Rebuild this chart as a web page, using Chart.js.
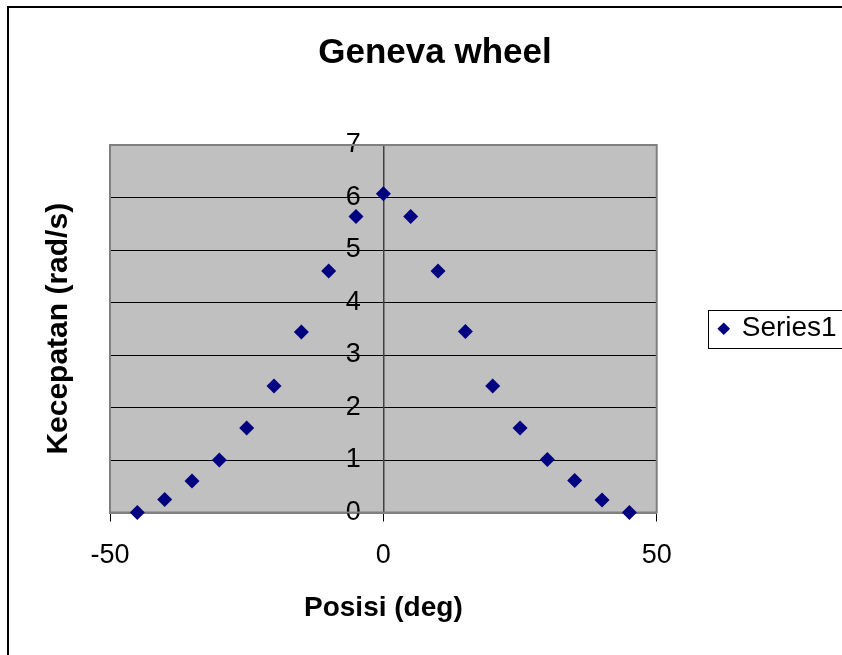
<!DOCTYPE html>
<html>
<head>
<meta charset="utf-8">
<script src="https://cdn.jsdelivr.net/npm/chart.js@4"></script>
<style>
  html, body { margin: 0; padding: 0; overflow: hidden; background: #fff; }
  canvas { display: block; }
</style>
</head>
<body>
<canvas id="genevaChart" width="900" height="655"></canvas>
<script>
// Posisi (deg) vs Kecepatan (rad/s)
const posisi = [-45, -40, -35, -30, -25, -20, -15, -10, -5, 0, 5, 10, 15, 20, 25, 30, 35, 40, 45];
const kecepatan = [0, 0.25, 0.6, 1.0, 1.61, 2.41, 3.44, 4.6, 5.64, 6.07, 5.64, 4.6, 3.45, 2.41, 1.61, 1.01, 0.61, 0.24, 0];
const seriesName = 'Series1';
const xTicks = [-50, 0, 50];
const yTicks = [0, 1, 2, 3, 4, 5, 6, 7];

const fontFamily = '"Liberation Sans", Arial, sans-serif';

// grey plot area + frame, outer chart border, legend box
const excelLook = {
    id: 'excelLook',
    beforeDraw(chart) {
        const c = chart.ctx;
        const a = chart.chartArea;
        c.save();
        c.fillStyle = '#c0c0c0';
        c.fillRect(a.left, a.top, a.right - a.left, a.bottom - a.top);
        c.strokeStyle = '#000';
        c.lineWidth = 2;
        c.beginPath();
        c.moveTo(8, 655);
        c.lineTo(8, 7);
        c.lineTo(900, 7);
        c.stroke();
        c.restore();
    },
    beforeDatasetsDraw(chart) {
        const c = chart.ctx;
        const a = chart.chartArea;
        c.save();
        c.strokeStyle = '#808080';
        c.lineWidth = 2;
        c.strokeRect(a.left, a.top, a.right - a.left, a.bottom - a.top);
        c.restore();
    },
    afterDraw(chart) {
        const box = chart.legend.legendHitBoxes[0];
        if (!box) return;
        const c = chart.ctx;
        const cy = box.top + box.height / 2;
        c.save();
        c.strokeStyle = '#000';
        c.lineWidth = 1;
        c.strokeRect(Math.round(box.left - 12) + 0.5, Math.round(cy - 19) + 0.5, 250, 38);
        c.restore();
    }
};

const ctx = document.getElementById('genevaChart').getContext('2d');
const genevaChart = new Chart(ctx, {
    type: 'scatter',
    data: {
        datasets: [{
            label: seriesName,
            data: posisi.map((x, i) => ({ x: x, y: kecepatan[i] })),
            pointStyle: 'rectRot',
            pointRadius: 7.5,
            pointHoverRadius: 7.5,
            backgroundColor: '#000080',
            borderColor: '#000080',
            borderWidth: 0,
            showLine: false,
            clip: false
        }]
    },
    options: {
        responsive: false,
        animation: false,
        layout: { padding: { top: 0, right: 30, bottom: 0, left: 0 } },
        scales: {
            x: {
                type: 'linear',
                min: -50,
                max: 50,
                afterBuildTicks: (scale) => { scale.ticks = xTicks.map(v => ({ value: v })); },
                grid: { drawOnChartArea: false, drawTicks: true, tickLength: 9, color: '#000' },
                border: { display: true, color: '#808080', width: 2 },
                ticks: { color: '#000', font: { family: fontFamily, size: 27 }, padding: 18, maxRotation: 0 },
                title: {
                    display: true,
                    text: 'Posisi (deg)',
                    color: '#000',
                    font: { family: fontFamily, size: 28, weight: 'bold' },
                    padding: { top: 1.5, bottom: 30 }
                }
            },
            y: {
                type: 'linear',
                position: { x: 0 },
                min: 0,
                max: 7,
                afterBuildTicks: (scale) => { scale.ticks = yTicks.map(v => ({ value: v })); },
                grid: { color: '#000', lineWidth: 1, drawTicks: true, tickLength: 8 },
                border: { display: true, color: '#404040', width: 1.5 },
                ticks: {
                    color: '#000',
                    font: { family: fontFamily, size: 27 },
                    // labels sit left of the centred axis; trailing spaces keep them off the line
                    callback: (v) => v + '   '
                }
            },
            yTitle: {
                type: 'linear',
                position: 'left',
                min: 0,
                max: 7,
                grid: { display: false },
                border: { display: false },
                ticks: { display: false },
                title: {
                    display: true,
                    text: 'Kecepatan (rad/s)',
                    color: '#000',
                    font: { family: fontFamily, size: 30, weight: 'bold' },
                    padding: { top: 41, bottom: 25 }
                }
            }
        },
        plugins: {
            title: {
                display: true,
                text: 'Geneva wheel',
                color: '#000',
                font: { family: fontFamily, size: 35, weight: 'bold' },
                padding: { top: 32, bottom: 71 }
            },
            legend: {
                position: 'right',
                fullSize: false,
                maxWidth: 400,
                labels: {
                    usePointStyle: true,
                    boxWidth: 8,
                    boxHeight: 9,
                    color: '#000',
                    padding: 63,
                    font: { family: fontFamily, size: 28 },
                    // extra room on the right, like the cut-off legend box of the original
                    generateLabels: (chart) => Chart.defaults.plugins.legend.labels.generateLabels(chart)
                        .map(item => Object.assign(item, { text: item.text + '   ' }))
                }
            },
            tooltip: { enabled: false }
        }
    },
    plugins: [excelLook]
});
</script>
</body>
</html>
